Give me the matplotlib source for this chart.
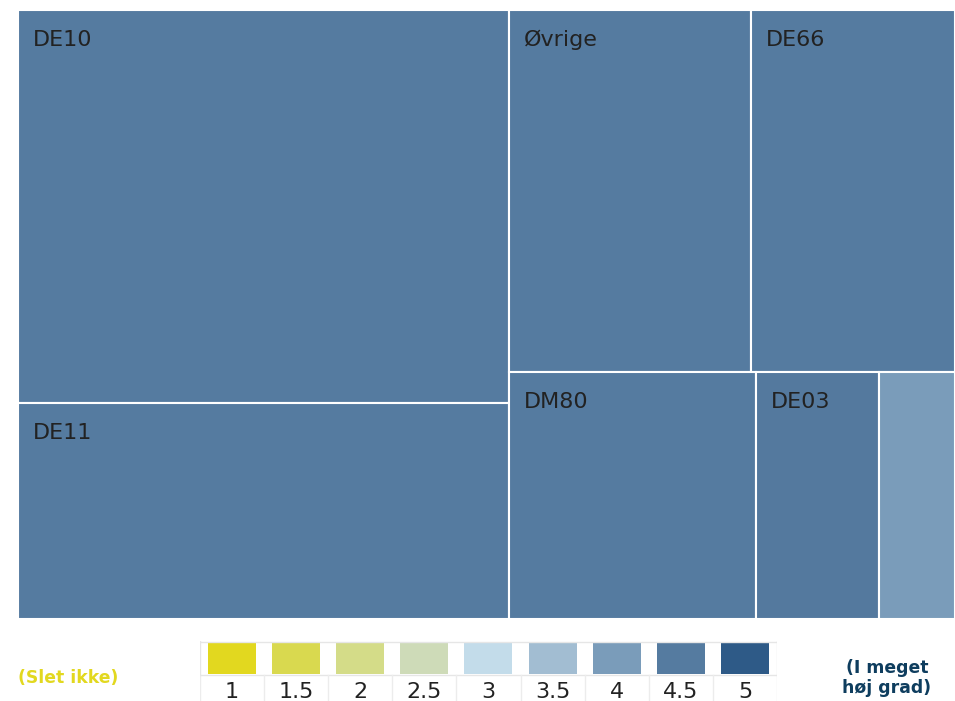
import matplotlib
matplotlib.use("Agg")
import matplotlib.pyplot as plt
from matplotlib.patches import Rectangle

# treemap data (share of total, read from block areas)
names = ["DE10", "DE11", "Øvrige", "DE66", "DM80", "DE03", ""]
values = [33.7, 18.5, 15.3, 12.9, 10.7, 5.3, 3.3]
scores = [4.5, 4.5, 4.5, 4.5, 4.5, 4.45, 4.0]

# colour classes
class_values = [1, 1.5, 2, 2.5, 3, 3.5, 4, 4.5, 5]
class_labels = ["1", "1.5", "2", "2.5", "3", "3.5", "4", "4.5", "5"]
class_colors = ["#e2d81f", "#d9d94f", "#d4dc88", "#cedbb8", "#c3dcea",
                "#a2bdd2", "#7a9cba", "#557ba0", "#2e5a87"]


def score_color(s):
    if s == 4.45:
        return "#54799e"
    i = min(range(len(class_values)), key=lambda k: abs(class_values[k] - s))
    return class_colors[i]


def layout(vals):
    # left column: first two stacked; right side: two rows (2 + 3)
    total = sum(vals)
    rects = []
    lw = (vals[0] + vals[1]) / total
    h0 = vals[0] / (vals[0] + vals[1])
    rects.append((0, 0, lw, h0))
    rects.append((0, h0, lw, 1 - h0))
    right = sum(vals[2:])
    th = (vals[2] + vals[3]) / right
    x = lw
    for v in vals[2:4]:
        w = (1 - lw) * v / (vals[2] + vals[3])
        rects.append((x, 0, w, th))
        x += w
    x = lw
    for v in vals[4:]:
        w = (1 - lw) * v / sum(vals[4:])
        rects.append((x, th, w, 1 - th))
        x += w
    return rects


W, H = 955, 701
fig = plt.figure(figsize=(W / 100, H / 100), dpi=100)
ax = fig.add_axes([18 / W, 1 - 619 / H, 937 / W, 609 / H])
ax.set_xlim(0, 1)
ax.set_ylim(1, 0)
ax.axis("off")

for (x, y, w, h), name, s in zip(layout(values), names, scores):
    ax.add_patch(Rectangle((x, y), w, h, facecolor=score_color(s),
                           edgecolor="white", linewidth=1.5))
    if name:
        ax.text(x + 15 / 937, y + 20 / 609, name, fontsize=16, color="#222222",
                ha="left", va="top")

# colour legend
lax = fig.add_axes([200 / W, 0, 577 / W, 1 - 641 / H])
lax.set_xlim(0, len(class_values))
lax.set_ylim(60, 0)
lax.axis("off")
for i, (c, lab) in enumerate(zip(class_colors, class_labels)):
    lax.add_patch(Rectangle((i + 8 / 64.1, 1), 48 / 64.1, 32, facecolor=c, edgecolor="none"))
    lax.text(i + 0.5, 40.5, lab, fontsize=16, color="#222222", ha="center", va="top")
lax.plot([0, len(class_values)], [0.5, 0.5], color="#e6e6e6", lw=1)
lax.plot([0, len(class_values)], [34, 34], color="#e6e6e6", lw=1)
for k in range(len(class_values) + 1):
    lax.plot([k, k], [34, 60], color="#ececec", lw=1)
    if k in (0, len(class_values)):
        lax.plot([k, k], [0, 34], color="#e6e6e6", lw=1)

fig.text(18 / W, 1 - 678 / H, "(Slet ikke)", fontsize=12.4, fontweight="bold",
         color="#e2d81f", ha="left", va="center")
fig.text(887 / W, 1 - 678 / H, "(I meget\nhøj grad)", fontsize=12.4, fontweight="bold",
         color="#0e3d5e", ha="center", va="center", linespacing=1.2)

fig.savefig("out.png", dpi=100)
